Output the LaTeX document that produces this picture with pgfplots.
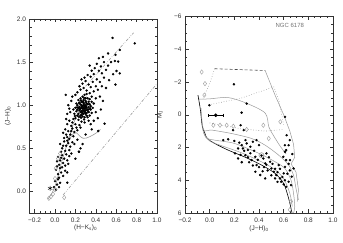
\documentclass[border=0pt]{standalone}
\usepackage{pgfplots}
\pgfplotsset{compat=1.18}
\usepackage{fontspec}
\setmainfont{Liberation Sans}
\definecolor{lgray}{gray}{0.6}
\definecolor{tgray}{gray}{0.2}
\begin{document}
\begin{tikzpicture}
\path[use as bounding box] (0pt,0pt) rectangle (343pt,243pt);
\pgfplotsset{
  idl/.style={
    scale only axis,
    axis line style={tgray, line width=0.5pt},
    tick style={tgray, line width=0.4pt},
    major tick length=3.5pt,
    minor tick length=2pt,
    tick align=inside,
    xtick pos=both, ytick pos=both,
    ticklabel style={font=\fontsize{6.5}{7}\selectfont, text=tgray},
    label style={font=\fontsize{6.5}{7}\selectfont, text=tgray},
    xticklabel shift=1pt,
    clip=true,
  },
  dot/.style={only marks, mark=*, mark size=1.0pt, black},
  dia/.style={only marks, mark=diamond, mark size=2.2pt, lgray, mark options={line width=0.4pt}},
}
% ---------------- left panel ----------------
\begin{axis}[idl, at={(29.5pt,30pt)}, anchor=south west, width=127.5pt, height=194pt,
  xmin=-0.25, xmax=1.0, ymin=-0.25, ymax=2.0,
  xtick={-0.2,0,0.2,0.4,0.6,0.8,1.0},
  xticklabels={−0.2,0.0,0.2,0.4,0.6,0.8,1.0},
  ytick={0,0.5,1,1.5,2},
  yticklabels={0.0,0.5,1.0,1.5,2.0},
  minor x tick num=3, minor y tick num=4,
  xlabel={(H−K\textsubscript{s})\textsubscript{0}},
  ylabel={(J−H)\textsubscript{0}},
  x label style={at={(axis description cs:0.44,-0.075)}, anchor=center},
  y label style={at={(axis description cs:-0.17,0.5)}, anchor=center},
]
% reddening lines
\addplot[lgray, line width=0.6pt, dash pattern=on 3pt off 1.5pt on 0.6pt off 1.5pt on 0.6pt off 1.5pt] coordinates {(0.30,1.22) (0.77,1.84)};
\addplot[lgray, line width=0.6pt, dash pattern=on 3pt off 1.5pt on 0.6pt off 1.5pt on 0.6pt off 1.5pt] coordinates {(0.08,-0.04) (1.0,1.25)};
% intrinsic loci
\addplot[lgray, line width=0.6pt, smooth] coordinates {(-0.07,-0.09) (-0.03,-0.02) (0.0,0.06) (0.03,0.18) (0.06,0.32) (0.09,0.44) (0.12,0.55) (0.15,0.62) (0.18,0.67) (0.21,0.68) (0.245,0.64) (0.277,0.616) (0.31,0.62) (0.342,0.636) (0.38,0.66) (0.424,0.694) (0.445,0.72)};
\addplot[lgray, line width=0.6pt, smooth] coordinates {(0.12,0.55) (0.17,0.75) (0.22,0.9) (0.27,1.02) (0.31,1.1)};
% data
\addplot[dot] coordinates {
(0.22,0.95) (0.24,0.98) (0.25,0.92) (0.26,1.00) (0.27,0.96) (0.28,0.94) (0.29,0.99) (0.30,0.97) (0.31,1.02) (0.32,0.95)
(0.23,0.90) (0.25,0.88) (0.27,0.91) (0.29,0.93) (0.31,0.91) (0.33,0.98) (0.34,1.01) (0.26,1.04) (0.28,1.06) (0.30,1.05)
(0.32,1.08) (0.24,1.03) (0.22,1.00) (0.21,0.93) (0.20,0.97) (0.27,0.87) (0.29,0.86) (0.31,0.88) (0.33,0.92) (0.35,0.95)
(0.36,1.04) (0.34,1.07) (0.25,1.08) (0.23,1.06) (0.27,1.10) (0.29,1.12) (0.31,1.13) (0.26,0.97) (0.28,1.00) (0.30,1.00)
(0.29,0.96) (0.27,0.99) (0.25,0.96) (0.24,0.94) (0.26,0.93) (0.28,0.97) (0.30,0.94) (0.32,1.01) (0.33,1.04) (0.35,0.99)
(0.37,0.97) (0.38,1.02) (0.36,0.91) (0.34,0.88) (0.22,0.88) (0.20,0.85) (0.19,0.90) (0.18,0.95) (0.21,1.02) (0.23,0.97)
(0.26,0.89) (0.28,0.90) (0.30,0.90) (0.32,0.86) (0.28,1.03) (0.30,1.08) (0.27,1.04) (0.25,1.01) (0.33,0.95) (0.31,0.97)
(0.245,0.955) (0.265,0.985) (0.285,1.015) (0.305,0.985) (0.275,0.935) (0.295,0.915) (0.315,0.945) (0.255,1.055) (0.285,1.085) (0.335,1.015)
(0.215,0.975) (0.235,1.025) (0.265,0.915) (0.305,1.035) (0.325,0.925) (0.345,0.965) (0.255,0.855) (0.285,0.835) (0.235,0.865) (0.195,0.875)
(0.14,0.82) (0.17,0.80) (0.20,0.78) (0.23,0.83) (0.26,0.81) (0.12,0.78) (0.18,0.84) (0.29,0.80) (0.16,0.76) (0.21,0.74)
(0.33,0.82) (0.11,0.84) (0.24,0.77) (0.35,0.78)
(0.08,0.68) (0.10,0.72) (0.13,0.70) (0.15,0.66) (0.17,0.73) (0.19,0.69) (0.22,0.71) (0.12,0.63) (0.09,0.62) (0.14,0.61)
(0.25,0.74) (0.18,0.64) (0.11,0.66) (0.16,0.70)
(0.05,0.55) (0.07,0.50) (0.09,0.58) (0.11,0.53) (0.13,0.56) (0.10,0.47) (0.15,0.52) (0.06,0.46) (0.12,0.59) (0.08,0.53)
(0.17,0.57) (0.14,0.48) (0.19,0.55) (0.235,0.46)
(0.03,0.40) (0.05,0.36) (0.07,0.42) (0.09,0.38) (0.11,0.43) (0.04,0.31) (0.08,0.33) (0.10,0.30) (0.06,0.39) (0.12,0.36)
(0.14,0.41) (0.02,0.35) (0.13,0.32) (0.16,0.44) (0.20,0.38)
(0.01,0.25) (0.03,0.20) (0.05,0.27) (0.06,0.22) (0.08,0.18) (0.04,0.16) (0.10,0.24) (0.02,0.29) (0.07,0.28) (0.12,0.22)
(0.00,0.12) (0.02,0.08) (0.03,0.14) (0.05,0.10) (-0.01,0.05) (0.01,0.02) (0.121,0.102) (0.04,0.05)
(0.20,1.12) (0.105,1.12) (0.22,1.15) (0.25,1.18) (0.28,1.20) (0.31,1.17) (0.34,1.14) (0.36,1.10) (0.38,1.16) (0.24,1.22)
(0.27,1.25) (0.30,1.28) (0.33,1.24) (0.35,1.21) (0.37,1.27) (0.40,1.22) (0.42,1.18) (0.29,1.32) (0.32,1.35) (0.35,1.33)
(0.38,1.36) (0.41,1.30) (0.44,1.27) (0.26,1.30) (0.36,1.40) (0.39,1.43) (0.43,1.40) (0.46,1.37) (0.48,1.32) (0.34,1.46)
(0.41,1.48) (0.45,1.45) (0.50,1.41) (0.43,1.544) (0.48,1.50) (0.52,1.46) (0.47,1.56) (0.57,1.36) (0.603,1.397) (0.635,1.37)
(0.593,1.24) (0.587,1.513) (0.619,1.506) (0.593,1.583) (0.635,1.641) (0.564,1.78) (0.782,1.718) (0.53,1.29) (0.50,1.20) (0.46,1.22)
(0.40,1.08) (0.44,1.10) (0.47,1.05) (0.55,1.50) (0.52,1.60)
(0.486,0.786) (0.424,0.701) (0.235,0.462) (0.40,0.92) (0.45,0.95) (0.42,0.85) (0.38,0.82) (0.36,0.72) (0.30,0.66) (0.27,0.55)
(0.22,0.60) (0.25,0.50) (0.13,1.00) (0.15,0.92) (0.16,1.05) (0.12,0.90) (0.14,0.96) (0.17,1.10)
};
\addplot[dia] coordinates {(-0.06,-0.08) (-0.04,-0.06) (-0.02,-0.03) (0.0,0.02) (0.007,0.268) (0.05,0.44) (0.03,0.38) (0.0,0.15) (0.09,-0.07)};
\addplot[only marks, mark=asterisk, mark size=2.5pt, black] coordinates {(-0.048,0.036)};
\end{axis}
% ---------------- right panel ----------------
\begin{axis}[idl, at={(185pt,30pt)}, anchor=south west, width=148pt, height=196.5pt,
  xmin=-0.2, xmax=1.0, ymin=-6, ymax=6, y dir=reverse,
  xtick={-0.2,0,0.2,0.4,0.6,0.8,1.0},
  xticklabels={−0.2,0.0,0.2,0.4,0.6,0.8,1.0},
  ytick={-6,-4,-2,0,2,4,6},
  yticklabels={−6,−4,−2,0,2,4,6},
  minor x tick num=3, minor y tick num=3,
  xlabel={(J−H)\textsubscript{0}},
  ylabel={M\textsubscript{J}},
  x label style={at={(axis description cs:0.5,-0.08)}, anchor=center},
  y label style={at={(axis description cs:-0.17,0.5)}, anchor=center},
]
% ZAMS
\addplot[black, line width=0.6pt, smooth] coordinates {(-0.095,-1.2) (-0.075,-0.3) (-0.06,0.7) (-0.04,1.1) (-0.02,1.45) (0.04,1.75) (0.15,2.16) (0.29,2.6) (0.42,3.07) (0.53,3.58) (0.60,4.2) (0.64,5.1) (0.665,5.9) (0.67,6.1)};
% PMS isochrones
\addplot[lgray, line width=0.5pt, smooth] coordinates {(-0.085,-0.95) (0.0,-0.97) (0.15,-1.05) (0.30,-0.7) (0.45,-0.1) (0.48,0.75) (0.52,1.3) (0.57,1.9) (0.62,2.4)};
\addplot[lgray, line width=0.5pt] coordinates {(0.45,-2.7) (0.53,-1.2) (0.60,0.0) (0.65,1.0) (0.68,1.8) (0.69,2.6) (0.66,3.0) (0.70,3.5) (0.72,4.6) (0.71,5.3)};
\addplot[lgray, line width=0.5pt, smooth] coordinates {(-0.07,-0.4) (-0.05,0.9) (0.02,0.94) (0.18,1.15) (0.34,1.45) (0.45,1.86) (0.56,2.47) (0.64,3.07) (0.68,3.7) (0.70,4.5) (0.72,5.2)};
\addplot[lgray, line width=0.5pt, smooth] coordinates {(-0.06,0.8) (-0.03,1.4) (0.04,1.55) (0.2,1.75) (0.4,2.36) (0.53,2.87) (0.61,3.28) (0.66,4.0) (0.68,4.8) (0.69,5.6) (0.68,6.0)};
\addplot[lgray, line width=0.5pt, smooth] coordinates {(-0.05,1.1) (0.0,1.6) (0.1,1.9) (0.25,2.3) (0.4,2.8) (0.52,3.3) (0.6,3.9) (0.65,4.8) (0.67,5.6)};
% dashed and dotted
\addplot[black!70, line width=0.6pt, dash pattern=on 3pt off 2pt] coordinates {(0.04,-2.81) (0.45,-2.7)};
\addplot[lgray, line width=0.6pt, dotted] coordinates {(0.04,-2.81) (0.0,-1.9) (-0.06,-0.9)};
\addplot[lgray, line width=0.6pt, dotted] coordinates {(-0.01,-0.6) (0.25,-1.0) (0.52,-1.7) (0.56,-0.9) (0.60,0.6)};
\addplot[lgray, line width=0.6pt, dotted] coordinates {(0.0,0.5) (0.25,0.85) (0.45,1.0) (0.60,0.9)};
% data
\addplot[dot] coordinates {
(0.197,-1.86) (-0.003,-0.58) (0.30,-0.68) (0.259,-0.13) (0.251,0.64) (0.611,0.13) (0.276,0.94)
(0.19,0.94) (0.11,1.55) (0.23,2.06) (0.29,1.55) (0.30,1.75) (0.35,1.65) (0.38,1.55) (0.40,1.86) (0.26,1.86) (0.27,2.06)
(0.29,2.47) (0.34,2.77) (0.37,2.57) (0.38,3.07) (0.435,2.67) (0.45,2.97) (0.46,2.36) (0.49,2.87) (0.50,3.28) (0.52,3.48)
(0.54,3.68) (0.56,3.07) (0.57,3.89) (0.60,3.58) (0.62,2.77) (0.62,2.16) (0.61,1.86) (0.64,1.86) (0.37,3.48) (0.41,3.68)
(0.45,3.89) (0.53,3.89) (0.58,4.09) (0.64,4.09) (0.665,3.78) (0.68,3.28) (0.23,2.67) (0.205,2.36) (0.25,2.45) (0.31,2.60)
(0.33,2.35) (0.36,2.20) (0.32,2.90) (0.35,3.10) (0.42,2.50) (0.44,3.20) (0.47,3.40) (0.48,2.60) (0.51,3.00) (0.53,3.30)
(0.55,3.50) (0.57,3.30) (0.59,3.80) (0.61,4.00) (0.63,3.60) (0.65,3.40) (0.66,4.30) (0.62,4.40) (0.60,4.25) (0.55,4.10)
(0.50,3.70) (0.43,3.45) (0.40,3.20) (0.28,2.20) (0.24,1.70) (0.20,1.60) (0.15,1.50) (0.33,1.95) (0.31,2.15) (0.26,2.90)
(0.39,2.75) (0.46,3.05) (0.624,1.25) (0.65,1.55) (0.611,2.26) (0.597,2.57) (0.651,2.77) (0.611,3.18) (0.64,3.00) (0.67,2.40)
};
\addplot[dia] coordinates {(-0.065,-2.61) (-0.038,-1.9) (-0.043,-1.2) (0.03,0.64) (0.084,0.64) (0.138,0.64) (0.192,0.7) (0.435,0.64) (0.573,0.43) (0.479,1.45) (0.30,0.9) (0.66,5.3) (0.65,5.8)};
\addplot[only marks, mark=o, mark size=2.5pt, lgray, line width=0.6pt] coordinates {(0.42,2.47)};
\addplot[only marks, mark=*, mark size=1.6pt, black, error bars/.cd, x dir=both, x explicit, error bar style={black, line width=0.6pt}, error mark options={rotate=90, mark size=1.5pt}] coordinates {(0.05,0.03) +- (0.06,0)};
\node[font=\fontsize{6}{7}\selectfont, text=black!55, anchor=center] at (axis cs:0.65,-5.45) {NGC 6178};
\end{axis}
\end{tikzpicture}
\end{document}
